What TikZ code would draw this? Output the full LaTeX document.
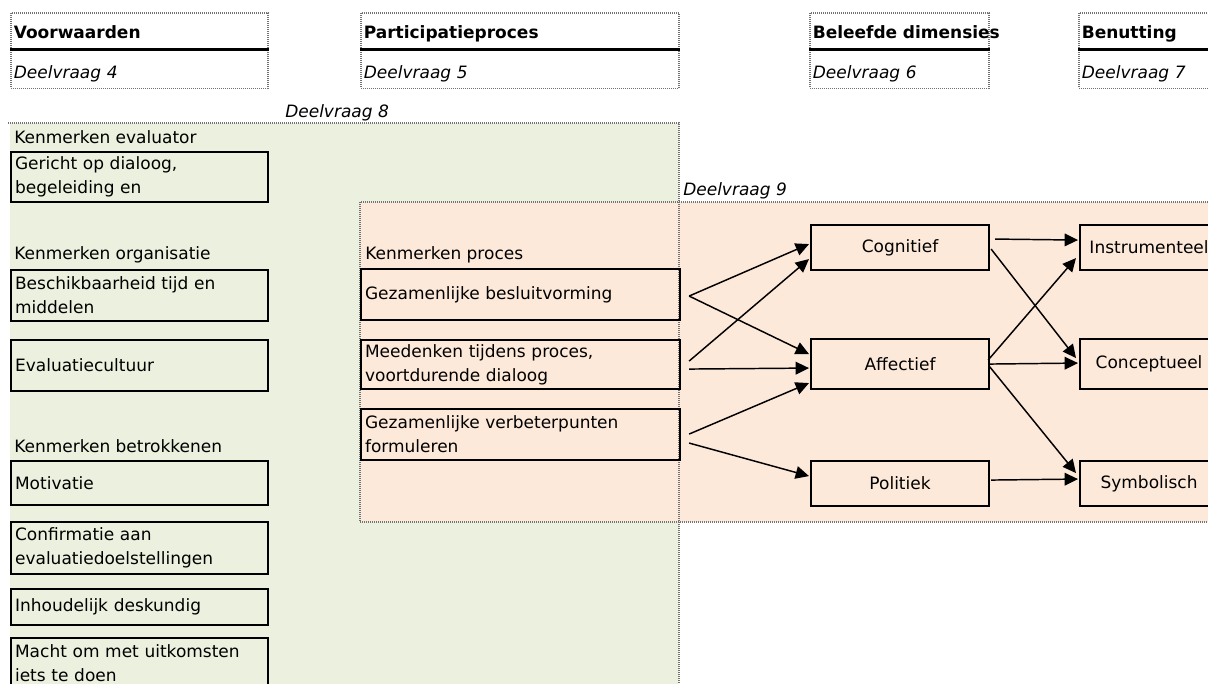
\documentclass[tikz,border=0pt]{standalone}
\usepackage{fontspec}
\setmainfont{DejaVu Sans}
\usetikzlibrary{positioning,arrows.meta}
\newlength\pxu
\setlength\pxu{0.75pt}
\newcommand\maat{\fontsize{12.75}{18}\selectfont\hyphenpenalty=10000}
\definecolor{groen}{HTML}{EBF1DE}
\definecolor{perzik}{HTML}{FDE9D9}
\definecolor{stip}{gray}{0.45}
\tikzset{
  kader/.style={draw=stip, line width=1.2pt, dash pattern=on 0.75pt off 0.75pt},
  kop/.style={kader, fill=white, anchor=north west, align=left, inner xsep=3\pxu, inner ysep=0pt, minimum height=36\pxu, text height=24\pxu, text depth=8\pxu, font=\maat\bfseries},
  sub/.style={kader, fill=white, align=left, inner xsep=3\pxu, inner ysep=0pt, minimum height=38\pxu, text height=26\pxu, text depth=8\pxu, font=\maat\itshape},
  vak/.style={draw, line width=1.6pt, anchor=north west, align=left, inner xsep=4\pxu, inner ysep=0pt, font=\maat},
  dim/.style={vak, align=center},
  kopje/.style={anchor=base west, inner sep=0pt, font=\maat},
  pijl/.style={-{Triangle[length=10pt,width=9.5pt]}, line width=1.1pt},
  scheiding/.style={line width=2.25pt}
}
\begin{document}
\begin{tikzpicture}[x=0.75pt,y=-0.75pt]
\useasboundingbox (0,0) rectangle (1208,684);
\clip (0,0) rectangle (1208,684);
\fill[white] (0,0) rectangle (1208,684);

% panelen
\fill[groen] (10,123) rectangle (679,700);
\fill[perzik] (360,202) rectangle (1220,522);
\draw[kader] (8,123) -- (679,123) -- (679,700);
\draw[kader] (1220,202) -- (360,202) -- (360,522) -- (1220,522);

% koppen
\node[kop, text width=251\pxu] (voorw) at (10,12) {Voorwaarden};
\node[sub, text width=251\pxu, below=0pt of voorw] (dv4) {Deelvraag 4};
\draw[scheiding] (voorw.south west) -- (voorw.south east);
\node[kop, text width=312\pxu] (partic) at (360,12) {Participatieproces};
\node[sub, text width=312\pxu, below=0pt of partic] (dv5) {Deelvraag 5};
\draw[scheiding] (partic.south west) -- (partic.south east);
\node[kop, text width=173\pxu] (beleefd) at (809,12) {\mbox{Beleefde dimensies}};
\node[sub, text width=173\pxu, below=0pt of beleefd] (dv6) {Deelvraag 6};
\draw[scheiding] (beleefd.south west) -- (beleefd.south east);
\node[kop, text width=172\pxu] (benut) at (1078,12) {Benutting};
\node[sub, text width=172\pxu, below=0pt of benut] (dv7) {Deelvraag 7};
\draw[scheiding] (benut.south west) -- (benut.south east);

\node[kopje, font=\maat\itshape] (dv8) at (285,118) {Deelvraag 8};
\node[kopje, font=\maat\itshape] (dv9) at (683,196) {Deelvraag 9};

% voorwaarden
\node[kopje] (kevalu) at (14,144) {Kenmerken evaluator};
\node[vak, text width=249\pxu, minimum height=50\pxu] (gericht) at (10,151) {Gericht op dialoog,\\begeleiding en};
\node[kopje] (korgan) at (14,260) {Kenmerken organisatie};
\node[vak, text width=249\pxu, minimum height=51\pxu] (beschik) at (10,269) {Beschikbaarheid tijd en\\middelen};
\node[vak, text width=249\pxu, minimum height=51\pxu] (evalcult) at (10,339) {Evaluatiecultuur};
\node[kopje] (kbetrok) at (14,453) {Kenmerken betrokkenen};
\node[vak, text width=249\pxu, minimum height=44\pxu] (motiv) at (10,460) {Motivatie};
\node[vak, text width=249\pxu, minimum height=52\pxu] (confirm) at (10,521) {Confirmatie aan\\evaluatiedoelstellingen};
\node[vak, text width=249\pxu, minimum height=36\pxu] (inhoud) at (10,588) {Inhoudelijk deskundig};
\node[vak, text width=249\pxu, minimum height=51\pxu] (macht) at (10,637) {Macht om met uitkomsten\\iets te doen};

% proces
\node[kopje] (kproces) at (365,260) {Kenmerken proces};
\node[vak, text width=311\pxu, minimum height=51\pxu] (gezbes) at (360,268) {Gezamenlijke besluitvorming};
\node[vak, text width=311\pxu, minimum height=49\pxu] (meed) at (360,339) {Meedenken tijdens proces,\\voortdurende dialoog};
\node[vak, text width=311\pxu, minimum height=51\pxu] (verb) at (360,408) {Gezamenlijke verbeterpunten\\formuleren};

% dimensies en benutting
\node[dim, minimum width=178\pxu, minimum height=45\pxu] (cogn) at (810,224) {Cognitief};
\node[dim, minimum width=178\pxu, minimum height=50\pxu] (aff) at (810,338) {Affectief};
\node[dim, minimum width=178\pxu, minimum height=45\pxu] (pol) at (810,460) {Politiek};
\node[dim, minimum width=138\pxu, minimum height=45\pxu] (instr) at (1079,224) {Instrumenteel};
\node[dim, minimum width=138\pxu, minimum height=50\pxu] (conc) at (1079,338) {Conceptueel};
\node[dim, minimum width=138\pxu, minimum height=45\pxu] (symb) at (1079,460) {Symbolisch};

% pijlen
\draw[pijl] ([shift={(8,1.5)}]gezbes.east) -- ([shift={(-1,-3.5)}]cogn.west);
\draw[pijl] ([shift={(8,1.5)}]gezbes.east) -- ([shift={(-1,-10)}]aff.west);
\draw[pijl] ([shift={(8,-3.5)}]meed.east) -- ([shift={(-1,11.5)}]cogn.west);
\draw[pijl] ([shift={(8,4.5)}]meed.east) -- ([shift={(-1,4)}]aff.west);
\draw[pijl] ([shift={(8,-0.5)}]verb.east) -- ([shift={(-1,19)}]aff.west);
\draw[pijl] ([shift={(8,8.5)}]verb.east) -- ([shift={(-1,-7.5)}]pol.west);
\draw[pijl] ([shift={(5,-8.5)}]cogn.east) -- ([shift={(-1,-7.5)}]instr.west);
\draw[pijl] ([shift={(1,1.5)}]cogn.east) -- ([shift={(-3,-6)}]conc.west);
\draw[pijl] ([shift={(-2,-4)}]aff.east) -- ([shift={(-3,10.5)}]instr.west);
\draw[pijl] ([shift={(-1,0)}]aff.east) -- ([shift={(-1,-1)}]conc.west);
\draw[pijl] ([shift={(-1,2)}]aff.east) -- ([shift={(-3,-10.5)}]symb.west);
\draw[pijl] ([shift={(1,-3.5)}]pol.east) -- ([shift={(-1,-4.5)}]symb.west);
\end{tikzpicture}
\end{document}
